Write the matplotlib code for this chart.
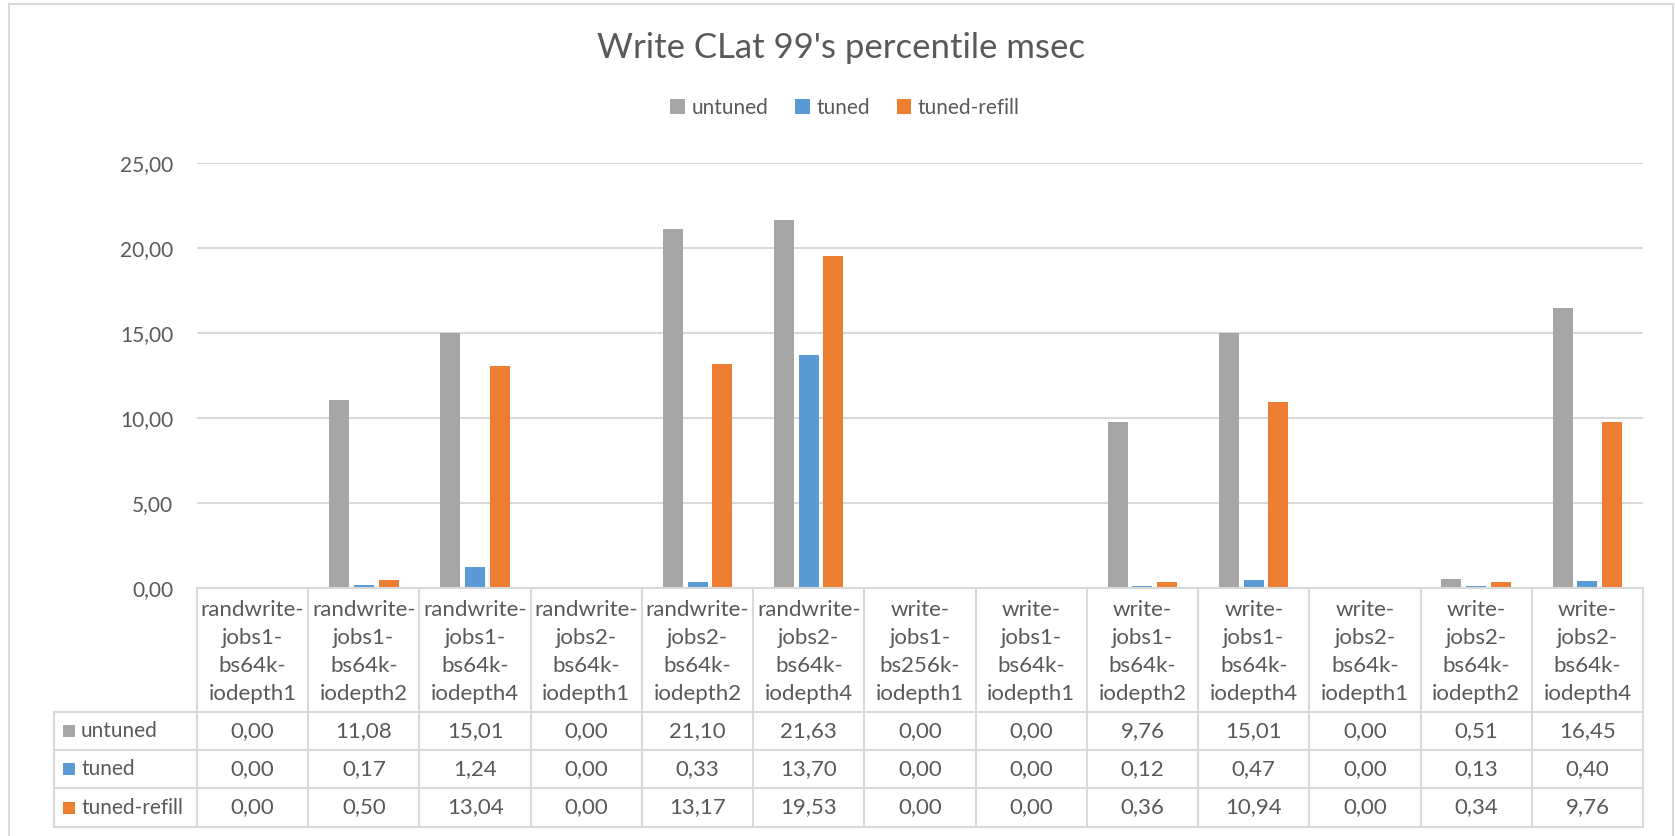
import numpy as np
import matplotlib.pyplot as plt
from matplotlib.patches import Rectangle

plt.rcParams['font.family'] = ['Lato', 'DejaVu Sans']

# Datos de latencia (percentil 99, msec)
tests = ["randwrite-jobs1-bs64k-iodepth1", "randwrite-jobs1-bs64k-iodepth2",
         "randwrite-jobs1-bs64k-iodepth4", "randwrite-jobs2-bs64k-iodepth1",
         "randwrite-jobs2-bs64k-iodepth2", "randwrite-jobs2-bs64k-iodepth4",
         "write-jobs1-bs256k-iodepth1", "write-jobs1-bs64k-iodepth1",
         "write-jobs1-bs64k-iodepth2", "write-jobs1-bs64k-iodepth4",
         "write-jobs2-bs64k-iodepth1", "write-jobs2-bs64k-iodepth2",
         "write-jobs2-bs64k-iodepth4"]
series = ["untuned", "tuned", "tuned-refill"]
untuned = [0.00, 11.08, 15.01, 0.00, 21.10, 21.63, 0.00, 0.00, 9.76, 15.01, 0.00, 0.51, 16.45]
tuned = [0.00, 0.17, 1.24, 0.00, 0.33, 13.70, 0.00, 0.00, 0.12, 0.47, 0.00, 0.13, 0.40]
tuned_refill = [0.00, 0.50, 13.04, 0.00, 13.17, 19.53, 0.00, 0.00, 0.36, 10.94, 0.00, 0.34, 9.76]
colors = ["#A5A5A5", "#5B9BD5", "#ED7D31"]
yticks = [0, 5, 10, 15, 20, 25]

TXT = "#595959"
GRID = "#D9D9D9"
W, H = 1675, 836
fig = plt.figure(figsize=(W / 100, H / 100), dpi=100)


def box(l, t, r, b):
    # caja en pixeles (desde arriba) -> fracción de figura
    return [l / W, 1 - b / H, (r - l) / W, (b - t) / H]


def fmt(v):
    return f"{v:.2f}".replace(".", ",")


# Gráfico de barras agrupadas
ax = fig.add_axes(box(197, 163, 1643, 588))
x = np.arange(len(tests))
values = [untuned, tuned, tuned_refill]
for i, (name, vals, c) in enumerate(zip(series, values, colors)):
    ax.bar(x + (i - 1) * 0.222, vals, width=0.18, color=c, label=name)

ax.set_xlim(-0.5, len(tests) - 0.5)
ax.set_ylim(0, 25)
ax.set_yticks(yticks)
ax.set_yticklabels([fmt(v) for v in yticks])
ax.yaxis.grid(True, color=GRID, lw=1.5)
ax.set_axisbelow(True)
ax.tick_params(axis="y", length=0, pad=17, labelsize=15, labelcolor=TXT)
ax.set_xticks([])
for s in ax.spines.values():
    s.set_visible(False)

fig.text(841 / W, 1 - 58 / H, "Write CLat 99's percentile msec", ha="center",
         va="baseline", fontsize=25, color=TXT)

handles, labels = ax.get_legend_handles_labels()
fig.legend(handles, labels, loc="center", bbox_to_anchor=(845 / W, 1 - 108 / H),
           ncol=3, frameon=False, fontsize=15, labelcolor=TXT,
           handlelength=0.7, handleheight=0.7, handletextpad=0.3, columnspacing=1.3)

# Tabla de datos debajo del gráfico
px = 1446 / len(tests)  # pixeles por categoría
tab = fig.add_axes(box(54, 588, 1643, 827))
x0 = -0.5 - 143 / px
x1 = len(tests) - 0.5
tab.set_xlim(x0, x1)
tab.set_ylim(239, 0)
tab.axis("off")
edges = [0, 124, 162, 200, 239]

lk = dict(color=GRID, lw=1.5, clip_on=False, solid_capstyle="projecting")
tab.plot([-0.5, x1], [0, 0], **lk)
for y in edges[1:]:
    tab.plot([x0, x1], [y, y], **lk)
for xb in np.arange(-0.5, x1 + 1):
    tab.plot([xb, xb], [0, 239], **lk)
tab.plot([x0, x0], [edges[1], 239], **lk)

for j, name in enumerate(tests):
    tab.text(j, 64, "-\n".join(name.split("-")), ha="center", va="center",
             fontsize=16, color=TXT, linespacing=1.48)

for r, (name, vals, c) in enumerate(zip(series, values, colors)):
    yc = (edges[r + 1] + edges[r + 2]) / 2
    tab.add_patch(Rectangle((x0 + 9 / px, yc - 6), 12 / px, 12, color=c, lw=0))
    tab.text(x0 + 27 / px, yc, name, ha="left", va="center", fontsize=15, color=TXT)
    for j, v in enumerate(vals):
        tab.text(j, yc, fmt(v), ha="center", va="center", fontsize=16, color=TXT)

# Marco exterior del gráfico
fig.patches.append(Rectangle((9 / W, -0.02), (1673 - 9) / W, 1.02 - 4 / H,
                             transform=fig.transFigure, fill=False,
                             ec=GRID, lw=1.5))

fig.savefig("out.png", dpi=100)
